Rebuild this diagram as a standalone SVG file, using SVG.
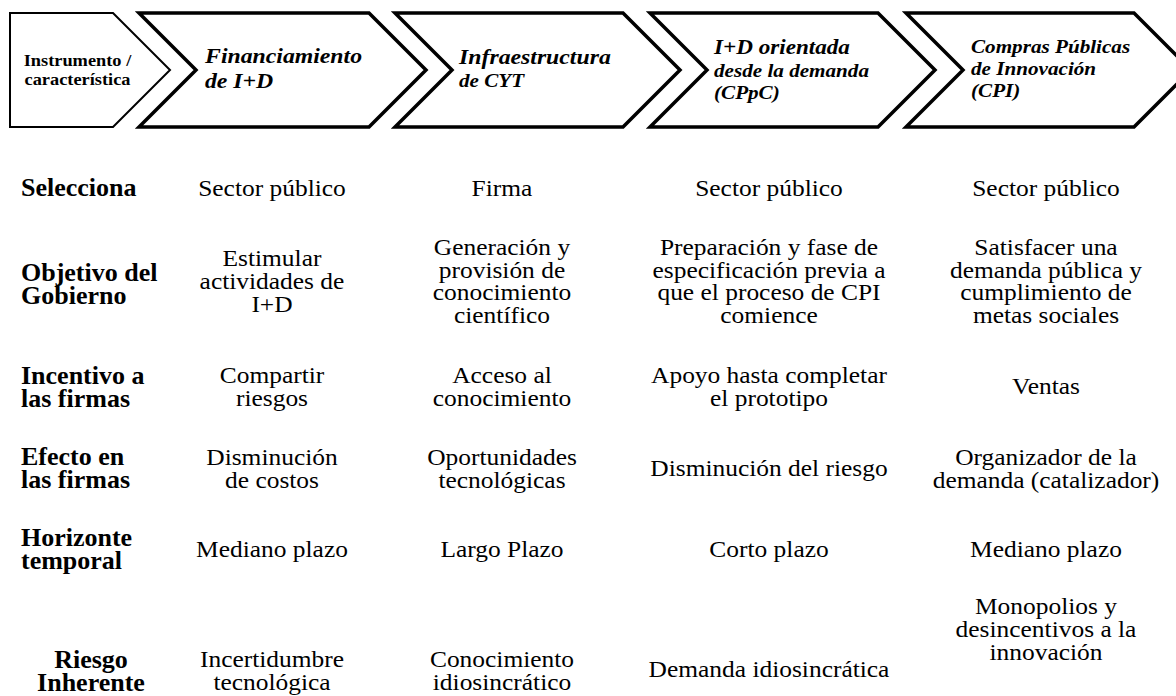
<svg xmlns="http://www.w3.org/2000/svg" width="1176" height="696" viewBox="0 0 1176 696">
<style>
.chev{fill:#fff;stroke:#000;stroke-width:3.5;stroke-linejoin:miter}
.chev1{fill:#fff;stroke:#000;stroke-width:2}
text{font-family:"Liberation Serif","Times New Roman",serif;fill:#000;transform-box:fill-box}
.h0{font-weight:bold;font-size:17px;text-anchor:middle;transform-origin:center;transform:scaleX(1.08)}
.hd{font-weight:bold;font-style:italic;font-size:22px;transform-origin:left center;transform:scaleX(1.08)}
.hm{font-weight:bold;font-style:italic;font-size:21.4px;transform-origin:left center;transform:scaleX(1.08)}
.hs{font-weight:bold;font-style:italic;font-size:19.6px;transform-origin:left center;transform:scaleX(1.08)}
.lab{font-weight:bold;font-size:25px;transform-origin:left center;transform:scaleX(1.04)}
.labc{font-weight:bold;font-size:25px;text-anchor:middle;transform-origin:center;transform:scaleX(1.04)}
.c{font-size:24px;text-anchor:middle;transform-origin:center;transform:scaleX(1.06)}
</style>
<rect width="1176" height="696" fill="#fff"/>
<g id="connectors"></g>
<g id="h1">
<polygon class="chev1" points="10,13 113,13 170,70 113,127 10,127"/>
<text class="h0" x="77.5" y="66">Instrumento /</text>
<text class="h0" x="77.5" y="85">característica</text>
</g>
<g id="h2">
<polygon class="chev" points="139,13 369,13 426,70 369,127 139,127 196,70"/>
<text class="hd" x="205" y="63.5">Financiamiento</text>
<text class="hd" x="205" y="88">de I+D</text>
</g>
<g id="h3">
<polygon class="chev" points="395,13 623,13 680,70 623,127 395,127 452,70"/>
<text class="hd" x="459" y="64">Infraestructura</text>
<text class="hs" x="459" y="87">de CYT</text>
</g>
<g id="h4">
<polygon class="chev" points="650,13 878,13 935,70 878,127 650,127 707,70"/>
<text class="hm" x="714" y="54.5">I+D orientada</text>
<text class="hs" x="714" y="76.7">desde la demanda</text>
<text class="hs" x="714" y="99">(CPpC)</text>
</g>
<g id="h5">
<polygon class="chev" points="906,13 1134,13 1191,70 1134,127 906,127 963,70"/>
<text class="hs" x="971" y="53.3">Compras Públicas</text>
<text class="hs" x="971" y="75">de Innovación</text>
<text class="hs" x="971" y="96.7">(CPI)</text>
</g>
<g id="row1">
<text class="lab" x="21" y="196.5">Selecciona</text>
<text class="c" x="272" y="196.5">Sector público</text>
<text class="c" x="502" y="196.5">Firma</text>
<text class="c" x="769" y="196.5">Sector público</text>
<text class="c" x="1046" y="196.5">Sector público</text>
</g>
<g id="row2">
<text class="lab" x="21" y="281">Objetivo del</text>
<text class="lab" x="21" y="304">Gobierno</text>
<text class="c" x="272" y="266.3">Estimular</text>
<text class="c" x="272" y="289">actividades de</text>
<text class="c" x="272" y="311.7">I+D</text>
<text class="c" x="502" y="255">Generación y</text>
<text class="c" x="502" y="277.7">provisión de</text>
<text class="c" x="502" y="300.4">conocimiento</text>
<text class="c" x="502" y="323.1">científico</text>
<text class="c" x="769" y="255">Preparación y fase de</text>
<text class="c" x="769" y="277.7">especificación previa a</text>
<text class="c" x="769" y="300.4">que el proceso de CPI</text>
<text class="c" x="769" y="323.1">comience</text>
<text class="c" x="1046" y="255">Satisfacer una</text>
<text class="c" x="1046" y="277.7">demanda pública y</text>
<text class="c" x="1046" y="300.4">cumplimiento de</text>
<text class="c" x="1046" y="323.1">metas sociales</text>
</g>
<g id="row3">
<text class="lab" x="21" y="384">Incentivo a</text>
<text class="lab" x="21" y="407">las firmas</text>
<text class="c" x="272" y="383">Compartir</text>
<text class="c" x="272" y="406">riesgos</text>
<text class="c" x="502" y="383">Acceso al</text>
<text class="c" x="502" y="406">conocimiento</text>
<text class="c" x="769" y="383">Apoyo hasta completar</text>
<text class="c" x="769" y="406">el prototipo</text>
<text class="c" x="1046" y="394.5">Ventas</text>
</g>
<g id="row4">
<text class="lab" x="21" y="465">Efecto en</text>
<text class="lab" x="21" y="488">las firmas</text>
<text class="c" x="272" y="465">Disminución</text>
<text class="c" x="272" y="488">de costos</text>
<text class="c" x="502" y="465">Oportunidades</text>
<text class="c" x="502" y="488">tecnológicas</text>
<text class="c" x="769" y="476.5">Disminución del riesgo</text>
<text class="c" x="1046" y="465">Organizador de la</text>
<text class="c" x="1046" y="488">demanda (catalizador)</text>
</g>
<g id="row5">
<text class="lab" x="21" y="546">Horizonte</text>
<text class="lab" x="21" y="569">temporal</text>
<text class="c" x="272" y="557.5">Mediano plazo</text>
<text class="c" x="502" y="557.5">Largo Plazo</text>
<text class="c" x="769" y="557.5">Corto plazo</text>
<text class="c" x="1046" y="557.5">Mediano plazo</text>
</g>
<g id="row6">
<text class="labc" x="91" y="668">Riesgo</text>
<text class="labc" x="91" y="691">Inherente</text>
<text class="c" x="272" y="667.5">Incertidumbre</text>
<text class="c" x="272" y="690.5">tecnológica</text>
<text class="c" x="502" y="667.5">Conocimiento</text>
<text class="c" x="502" y="690.5">idiosincrático</text>
<text class="c" x="769" y="677">Demanda idiosincrática</text>
<text class="c" x="1046" y="614">Monopolios y</text>
<text class="c" x="1046" y="637">desincentivos a la</text>
<text class="c" x="1046" y="660">innovación</text>
</g>
</svg>
